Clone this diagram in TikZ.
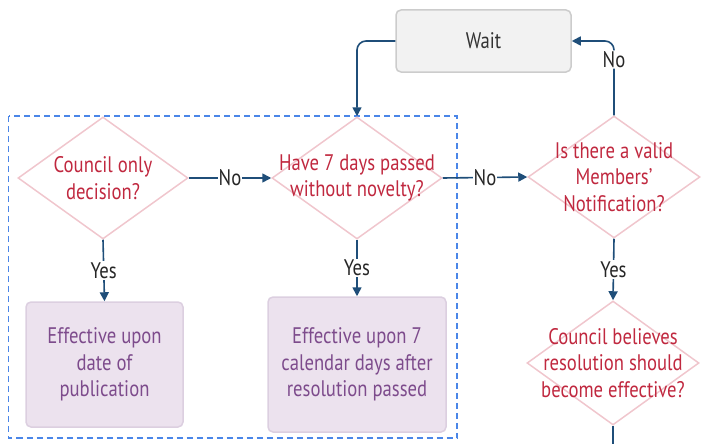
\documentclass[tikz,border=0pt]{standalone}
\usepackage{fontspec}
\setmainfont{PT Sans}[FakeStretch=0.83]
\usetikzlibrary{shapes.geometric,arrows.meta}
\definecolor{dborder}{HTML}{F0C6CD}
\definecolor{dtextc}{HTML}{C0283F}
\definecolor{bfill}{HTML}{ECE2EE}
\definecolor{bborder}{HTML}{DCCFE0}
\definecolor{btext}{HTML}{7D4B8C}
\definecolor{wfill}{HTML}{F2F2F2}
\definecolor{wborder}{HTML}{CCCCCC}
\definecolor{wtext}{HTML}{333333}
\definecolor{arr}{HTML}{1F4E79}
\definecolor{dashc}{HTML}{4A86E8}
\begin{document}
\begin{tikzpicture}[x=1pt,y=-1pt,
  txt/.style={font=\fontsize{22.5}{26.5}\selectfont},
  dia/.style={diamond, draw=dborder, line width=1.5pt, inner sep=0pt,
    minimum width=170pt, minimum height=122pt},
  dtext/.style={txt, text=dtextc, align=center},
  pbox/.style={rectangle, rounded corners=5pt, draw=bborder, fill=bfill,
    line width=1.5pt, text=btext, align=center, txt},
  wbox/.style={rectangle, rounded corners=5pt, draw=wborder, fill=wfill,
    line width=1.5pt, text=wtext, align=center, txt},
  conn/.style={draw=arr, line width=1.6pt},
  arrow/.style={conn, -{Triangle[length=9pt,width=9pt]}},
  lab/.style={txt, fill=white, text=black!85, inner sep=1pt},
  frame/.style={draw=dashc, line width=1.3pt, dash pattern=on 6pt off 4pt}]
\useasboundingbox (0,0) rectangle (701,444);
% dashed frame
\draw[frame] (8.5,116) rectangle (457,438);
% diamonds
\node[dia, label={[dtext]center:{Council only\\decision?}}] (d1) at (103,178) {};
\node[dia, label={[dtext]center:{Have 7 days passed\\without novelty?}}] (d2) at (357,178) {};
\node[dia, minimum width=172pt, label={[dtext]center:{Is there a valid\\Members'\\Notification?}}] (d3) at (614,177) {};
\node[dia, minimum width=172pt, minimum height=124pt, label={[dtext]center:{Council believes\\resolution should\\become effective?}}] (d4) at (613,363) {};
% boxes
\node[pbox, minimum width=157pt, minimum height=125pt] (b1) at (104.5,364.5) {Effective upon\\date of\\publication};
\node[pbox, minimum width=178pt, minimum height=135pt] (b2) at (357,364.5) {Effective upon 7\\calendar days after\\resolution passed};
\node[wbox, minimum width=175pt, minimum height=62pt] (w) at (483.5,41) {Wait};
% connectors
\draw[arrow] (d1.east) -- node[lab] {No} (d2.west);
\draw[arrow] (d2.east) -- node[lab] {No} (d3.west);
\draw[arrow] (d1.south) -- node[lab] {Yes} (b1.north);
\draw[arrow] (d2.south) -- node[lab] {Yes} (b2.north);
\draw[arrow] (d3.south) -- node[lab] {Yes} (d4.north);
\draw[arrow, rounded corners=9pt] (w.west) -| (d2.north);
\draw[arrow, rounded corners=9pt] (d3.north) -- node[lab, pos=0.75] {No} (d3.north |- w.east) -- (w.east);
\coordinate (out) at (613,444);
\draw[conn] (d4.south) -- (out);
\end{tikzpicture}
\end{document}
